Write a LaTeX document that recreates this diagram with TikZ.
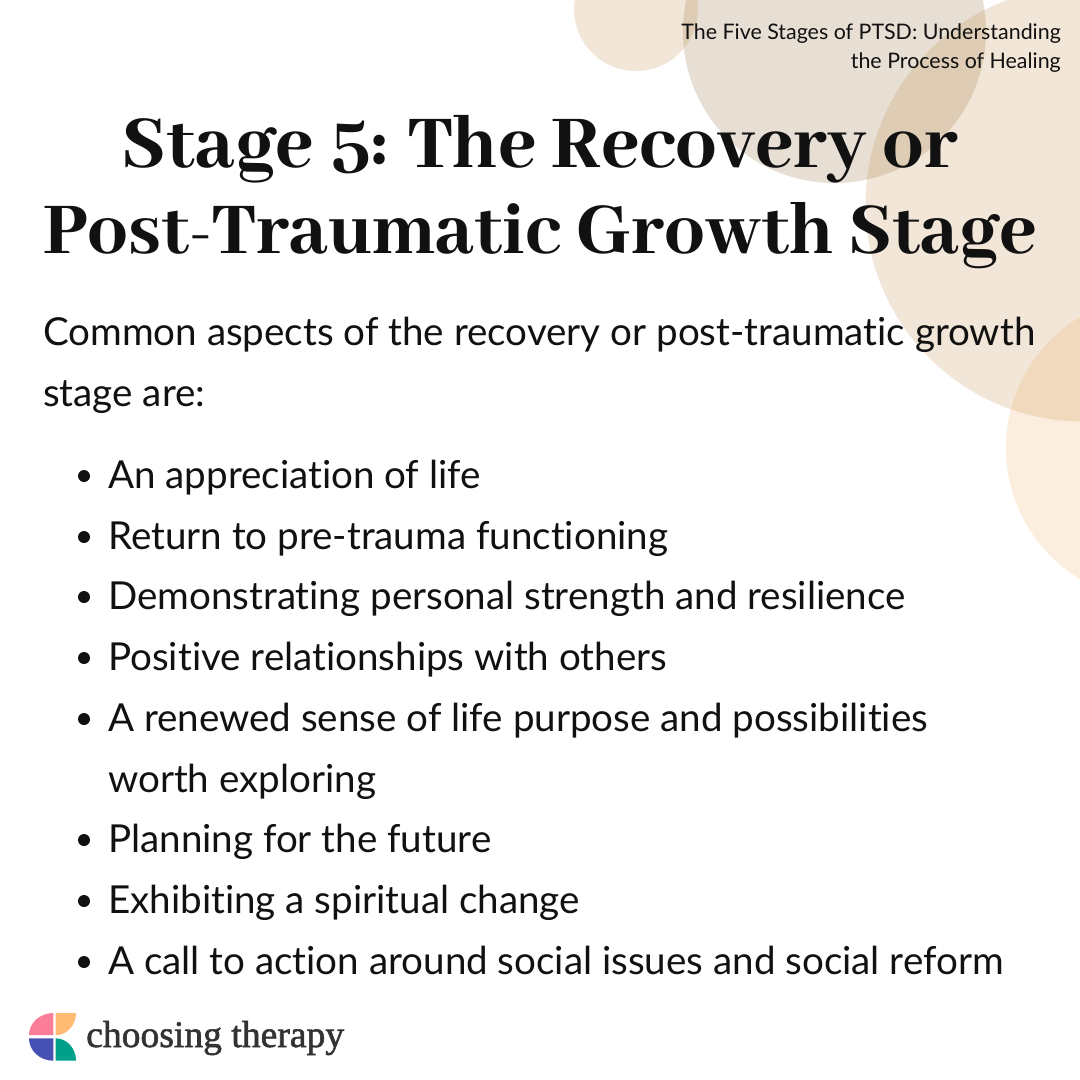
\documentclass[tikz,border=0pt]{standalone}
\usepackage{fontspec}
\setmainfont{Lato}[RawFeature={-liga}]
\newfontfamily\titlefont{Abhaya Libre ExtraBold}[Numbers=Lining]
\newfontfamily\logofont{Liberation Serif}[FakeBold=1.5]
\definecolor{inkc}{HTML}{111111}
\definecolor{taupec}{HTML}{E7DFD4}
\definecolor{beigec}{HTML}{BE823C}
\definecolor{peachc}{HTML}{ED9B43}
\definecolor{logopink}{HTML}{FB7D98}
\definecolor{logoorange}{HTML}{FFBB73}
\definecolor{logoblue}{HTML}{4650B2}
\definecolor{logoteal}{HTML}{00A08A}
\tikzset{
  title/.style={text=inkc,anchor=base,inner sep=0pt,font=\titlefont\fontsize{80.4}{86}\selectfont},
  body/.style={text=inkc,anchor=base west,inner sep=0pt,font=\fontsize{38.55}{61}\selectfont},
  header/.style={text=inkc,anchor=base east,inner sep=0pt,font=\fontsize{21.4}{29}\selectfont},
  dot/.style={circle,fill=inkc,inner sep=0pt,minimum size=12pt},
}
\begin{document}
\begin{tikzpicture}[x=1pt,y=-1pt]
\useasboundingbox (0,0) rectangle (1080,1080);
\clip (0,0) rectangle (1080,1080);
\fill[white] (0,0) rectangle (1080,1080);
% circles
\fill[taupec] (834.5,31.5) circle (151.5);
\fill[beigec,opacity=.2] (636,9) circle (62);
\fill[beigec,opacity=.2] (1083,204) circle (217.5);
\fill[peachc,opacity=.17] (1159,448) circle (153);
% header
\node[header] (head1) at (1061,39) {The Five Stages of PTSD: Understanding};
\node[header] (head2) at (1061,68) {the Process of Healing};
% title
\node[title,font=\titlefont\fontsize{82.1}{86}\selectfont] (title1) at (540,167) {Stage 5: The Recovery or};
\node[title] (title2) at (540,253) {Post-Traumatic Growth Stage};
% intro
\node[body] (intro1) at (43,345) {Common aspects of the recovery or post-traumatic growth};
\node[body] (intro2) at (43,406) {stage are:};
% list
\foreach \n/\y/\txt in {
  1/488/An appreciation of life,
  2/549/Return to pre-trauma functioning,
  3/609/Demonstrating personal strength and resilience,
  4/670/Positive relationships with others,
  5/731/A renewed sense of life purpose and possibilities,
  6/852/Planning for the future,
  7/913/Exhibiting a spiritual change,
  8/974/A call to action around social issues and social reform}
{
  \node[body] (item\n) at (108,\y) {\txt};
  \node[dot] (dot\n) at (84,\y-12) {};
}
\node[body] (item5b) at (108,792) {worth exploring};
% logo
\fill[logopink] (53.3,1035.2) -- (29,1035.2) arc (180:270:24.3 and 22.2) -- cycle;
\fill[logoorange] (55.7,1013) -- (76,1013) arc (0:90:20.3 and 22.2) -- cycle;
\fill[logoblue] (53.3,1038.3) -- (29,1038.3) arc (180:90:24.3 and 22.4) -- cycle;
\fill[logoteal] (55.7,1060.7) -- (76,1060.7) arc (0:-90:20.3 and 22.4) -- cycle;
\node[anchor=base west,inner sep=0pt,text=black!80,font=\logofont\fontsize{37.6}{38}\selectfont] (logo) at (86,1047) {choosing therapy};
\end{tikzpicture}
\end{document}
